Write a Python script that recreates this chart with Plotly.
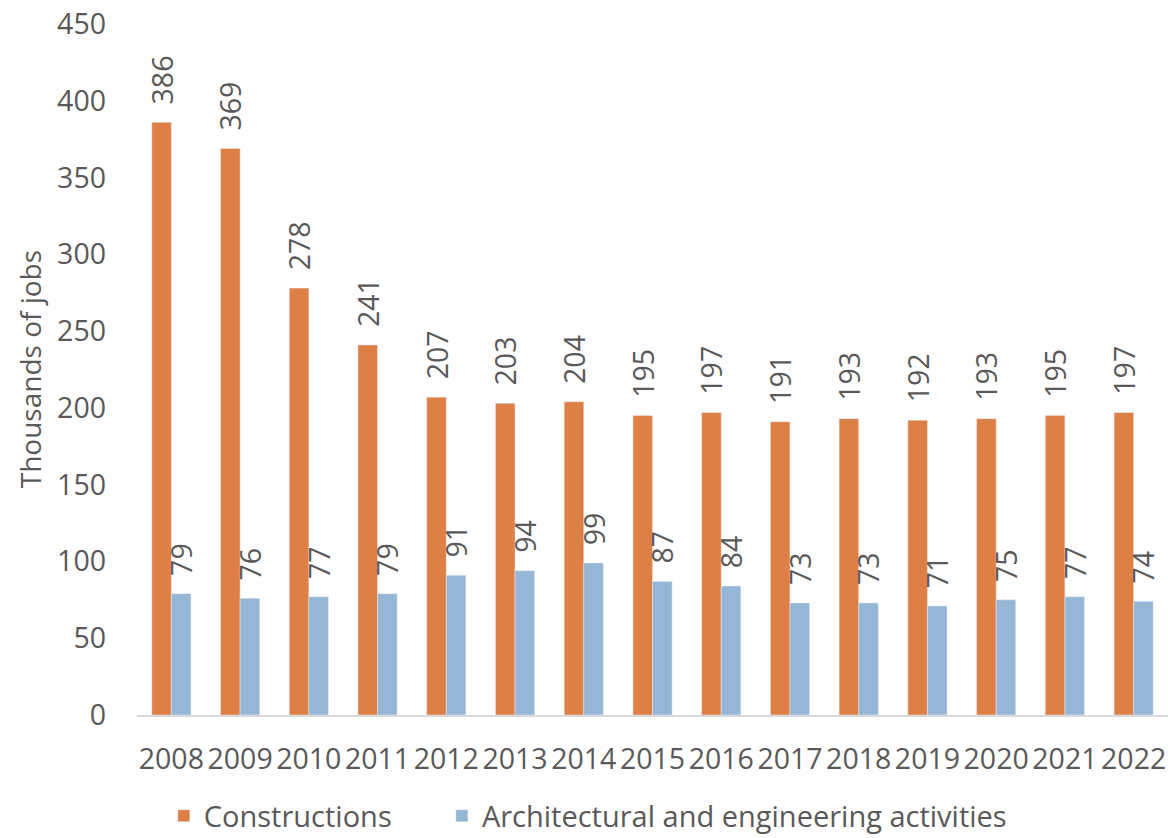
import plotly.graph_objects as go

years = ["2008","2009","2010","2011","2012","2013","2014","2015","2016","2017","2018","2019","2020","2021","2022"]
constructions = [386, 369, 278, 241, 207, 203, 204, 195, 197, 191, 193, 192, 193, 195, 197]
architectural = [79, 76, 77, 79, 91, 94, 99, 87, 84, 73, 73, 71, 75, 77, 74]
y_ticks = [0, 50, 100, 150, 200, 250, 300, 350, 400, 450]

FONT = "Open Sans"
GRAY = "#595959"
FS = 28.5
PAD = "\u00a0\u00a0"

fig = go.Figure()
fig.add_trace(go.Bar(
    x=years, y=constructions, name="Constructions" + "\u00a0" * 6,
    marker=dict(color="#DE7F46"),
    text=[PAD + str(v) for v in constructions], textposition="outside", textangle=-90,
    constraintext="none", cliponaxis=False,
    textfont=dict(family=FONT, size=FS, color=GRAY),
))
fig.add_trace(go.Bar(
    x=years, y=architectural, name="Architectural and engineering activities",
    marker=dict(color="#96B6D5"),
    text=[PAD + str(v) for v in architectural], textposition="outside", textangle=-90,
    constraintext="none", cliponaxis=False,
    textfont=dict(family=FONT, size=FS, color=GRAY),
))

fig.update_layout(
    width=1168, height=838,
    margin=dict(l=137, r=0, t=24, b=123, autoexpand=False),
    paper_bgcolor="white", plot_bgcolor="white",
    barmode="group", bargap=0.43, bargroupgap=0,
    font=dict(family=FONT, size=FS, color=GRAY),
    showlegend=True,
    legend=dict(orientation="h", x=0.026, xanchor="left", y=-0.146, yanchor="middle",
                font=dict(family=FONT, size=29, color=GRAY)),
    xaxis=dict(showline=True, linecolor="#D9D9D9", linewidth=2, ticks="",
               tickfont=dict(family=FONT, size=FS, color=GRAY),
               ticklabelstandoff=18, showgrid=False, automargin=False),
    yaxis=dict(range=[0, 450], tickvals=y_ticks, showgrid=False, zeroline=False,
               showline=False, ticks="", automargin=False,
               tickfont=dict(family=FONT, size=FS, color=GRAY),
               ticklabelstandoff=30),
    annotations=[dict(text="Thousands of jobs", textangle=-90, xref="paper", yref="paper",
                      x=-0.104, y=0.5, xanchor="center", yanchor="middle", showarrow=False,
                      font=dict(family=FONT, size=28, color=GRAY))],
)

fig.write_html("out.html", config={"displayModeBar": False})
with open("out.html", "r", encoding="utf-8") as f:
    html = f.read()
html = html.replace("<body>", "<body style=\"margin:0;overflow:hidden\">", 1)
with open("out.html", "w", encoding="utf-8") as f:
    f.write(html)
